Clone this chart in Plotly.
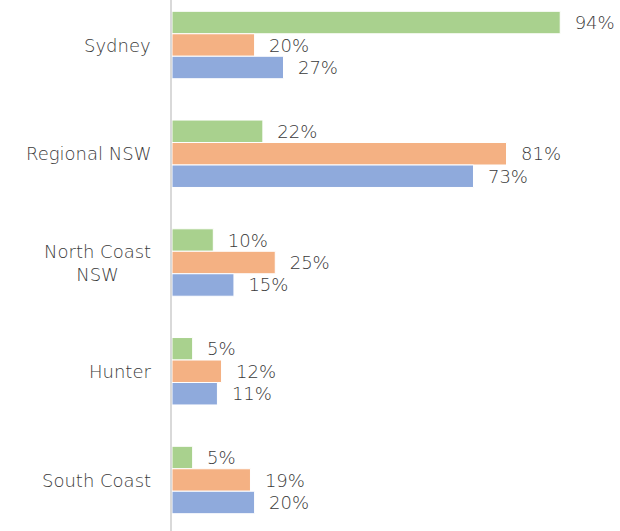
import plotly.graph_objects as go

categories = ["Sydney", "Regional NSW", "North Coast<br>NSW", "Hunter", "South Coast"]
series_green = [94, 22, 10, 5, 5]
series_orange = [20, 81, 25, 12, 19]
series_blue = [27, 73, 15, 11, 20]

colors = ["#A9D18E", "#F4B183", "#8FAADC"]
font_family = "'DejaVu Sans', sans-serif"
text_color = "#3A3A3A"
font_size = 18

fig = go.Figure()
for vals, col in zip([series_green, series_orange, series_blue], colors):
    fig.add_trace(go.Bar(
        y=list(range(len(categories))), x=vals, orientation="h",
        marker=dict(color=col, line=dict(color="white", width=1)),
        text=[f"{v}%" for v in vals], texttemplate="  %{text}",
        textposition="outside", cliponaxis=False,
        textfont=dict(family=font_family, size=font_size, color=text_color, weight=300),
        showlegend=False,
    ))

for i, c in enumerate(categories):
    fig.add_annotation(
        x=0, y=i, xref="paper", yref="y", text=c, showarrow=False,
        xanchor="right", yanchor="middle", align="center", xshift=-19,
        font=dict(family=font_family, size=font_size, color=text_color, weight=300),
    )

fig.update_layout(
    width=620, height=531,
    margin=dict(l=172, r=35, t=0, b=0),
    paper_bgcolor="white", plot_bgcolor="white",
    barmode="group", bargap=0.38, bargroupgap=0,
    xaxis=dict(range=[0, 100], showgrid=False, zeroline=False, showticklabels=False, showline=False),
    yaxis=dict(range=[4.469, -0.414], showgrid=False, zeroline=False, showticklabels=False,
               showline=True, linecolor="#D9D9D9", linewidth=2),
    uniformtext=dict(mode=False),
)

fig.write_html("out.html")
